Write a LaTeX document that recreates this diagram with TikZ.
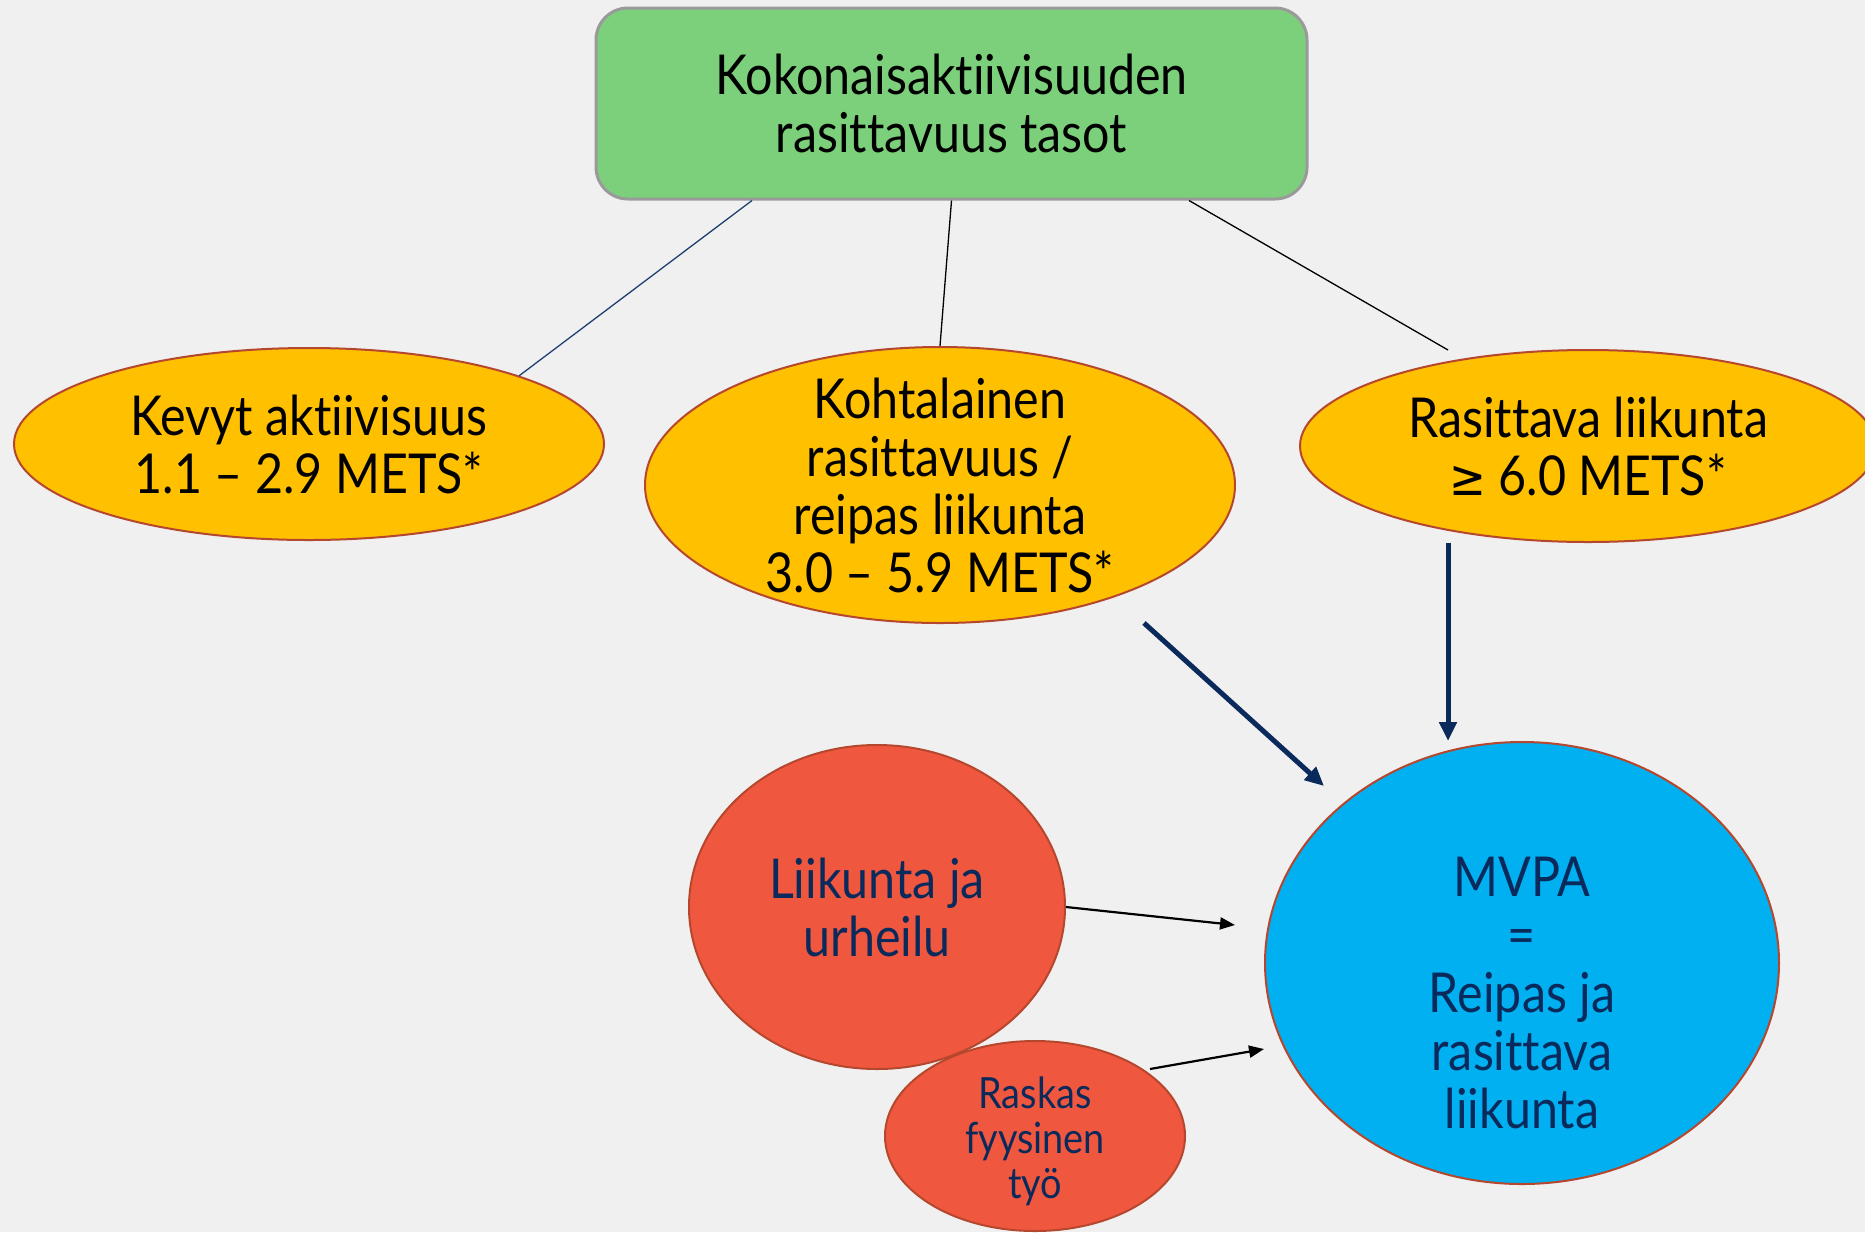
\documentclass[tikz,border=0pt]{standalone}
\usepackage{fontspec}
\setmainfont[FakeStretch=0.88,Ligatures=NoCommon]{Lato}
\newfontfamily\symfont[FakeStretch=0.88]{DejaVu Sans}
\usetikzlibrary{shapes.geometric,arrows.meta,calc}
\definecolor{bgc}{HTML}{F0F0F0}
\definecolor{greenfill}{HTML}{7DD07B}
\definecolor{greyedge}{HTML}{9A9A9A}
\definecolor{yellowfill}{HTML}{FFC000}
\definecolor{brownedge}{HTML}{B5472E}
\definecolor{redfill}{HTML}{F0573F}
\definecolor{bluefill}{HTML}{00B0F0}
\definecolor{navy}{HTML}{0B2A5C}
\definecolor{linenavy}{HTML}{1F3F70}
\begin{document}
\begin{tikzpicture}[x=1pt,y=-1pt,
  topbox/.style={draw=greyedge,line width=3pt,fill=greenfill,rounded corners=32pt,
    minimum width=711pt,minimum height=191pt,inner sep=0pt},
  yellowell/.style={ellipse,draw=brownedge,line width=2pt,fill=yellowfill,inner sep=0pt},
  redell/.style={ellipse,draw=brownedge,line width=2pt,fill=redfill,inner sep=0pt},
  blueell/.style={ellipse,draw=brownedge,line width=2pt,fill=bluefill,inner sep=0pt},
  bigtxt/.style={align=center,font=\fontsize{55}{58}\selectfont,text=black,inner sep=0pt},
  navytxt/.style={align=center,font=\fontsize{55}{58}\selectfont,text=navy,inner sep=0pt},
  smalltxt/.style={align=center,font=\fontsize{43}{45}\selectfont,text=navy,inner sep=0pt},
  thinline/.style={line width=1.3pt,draw=black},
  thickarrow/.style={line width=5pt,draw=navy,-{Triangle[length=19pt,width=17pt]}},
  thinarrow/.style={line width=2.2pt,draw=black,-{Triangle[length=15pt,width=12pt]}}]
\fill[bgc] (0,0) rectangle (1865,1232);
\useasboundingbox (0,0) rectangle (1865,1232);

\node[topbox] (box) at (951.5,103.5) {};
\node[bigtxt] (boxt) at (box) {Kokonaisaktiivisuuden\\rasittavuus tasot};

\node[yellowell,minimum width=590pt,minimum height=192pt] (e1) at (309,444) {};
\node[bigtxt] (e1t) at (e1) {Kevyt aktiivisuus\\1.1 – 2.9 METS*};

\node[yellowell,minimum width=590pt,minimum height=276pt] (e2) at (940,485) {};
\node[bigtxt] (e2t) at (e2) {Kohtalainen\\rasittavuus /\\reipas liikunta\\3.0 – 5.9 METS*};

\node[yellowell,minimum width=576pt,minimum height=192pt] (e3) at (1588,446) {};
\node[bigtxt] (e3t) at (e3) {Rasittava liikunta\\{\symfont\fontsize{50}{58}\selectfont ≥} 6.0 METS*};

\node[blueell,minimum width=514pt,minimum height=442pt] (mvpa) at (1522,963) {};
\node[navytxt] (mvpat) at (1522,993) {MVPA\\=\\Reipas ja\\rasittava\\liikunta};

\node[redell,minimum width=376pt,minimum height=324pt] (r1) at (877,907) {};
\node[navytxt] (r1t) at (r1) {Liikunta ja\\urheilu};

\node[redell,minimum width=300pt,minimum height=190pt] (r2) at (1035,1136) {};
\node[smalltxt] (r2t) at (1035,1141) {Raskas\\fyysinen\\työ};

% connectors from top box
\draw[line width=1.3pt,draw=linenavy] ([xshift=-199.5pt]box.south) -- (e1.18);
\draw[thinline] (box.south) -- (e2.north);
\coordinate (c3) at (1448,350);
\draw[thinline] ([xshift=237.5pt]box.south) -- (c3);

% thick arrows
\coordinate (k1) at (1144,623);
\coordinate (k2) at (1324,786);
\draw[thickarrow] (k1) -- (k2);
\coordinate (v1) at (1448,543);
\coordinate (v2) at (1448,741);
\draw[thickarrow] (v1) -- (v2);

% thin arrows
\coordinate (a1) at (1235,925);
\draw[thinarrow] (r1.east) -- (a1);
\coordinate (b0) at (1150,1069);
\coordinate (b1) at (1264,1049);
\draw[thinarrow] (b0) -- (b1);
\end{tikzpicture}
\end{document}
